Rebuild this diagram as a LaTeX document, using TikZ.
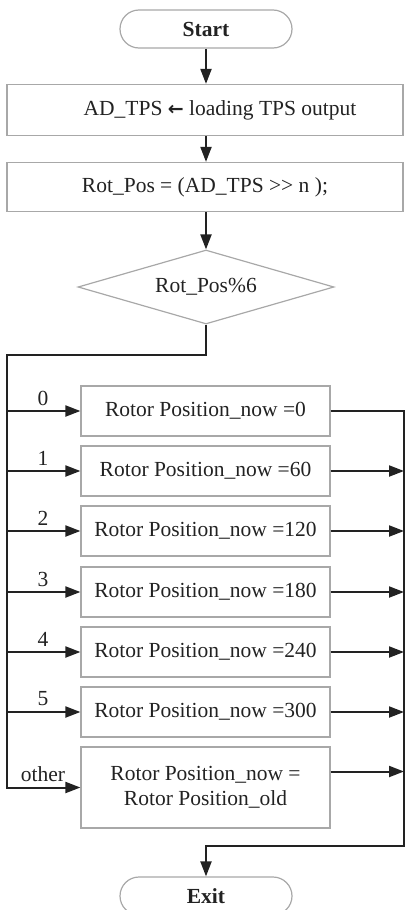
\documentclass[tikz,border=0pt]{standalone}
\usepackage{fontspec}
\setmainfont{Liberation Serif}
\newfontfamily\symf{DejaVu Sans}
\usetikzlibrary{shapes.geometric,arrows.meta}
\definecolor{txt}{HTML}{222222}
\definecolor{boxc}{HTML}{A8A8A8}
\definecolor{linec}{HTML}{222222}
\begin{document}
\begin{tikzpicture}[x=1pt,y=-1pt,
  every node/.style={font=\fontsize{21.5}{25}\selectfont, text=txt},
  box/.style={draw=boxc, line width=1.2pt, rectangle, minimum width=249pt, minimum height=50pt, inner sep=0pt, align=center},
  wide/.style={box, minimum width=396pt},
  term/.style={draw=boxc, line width=1.2pt, rounded corners=19pt, minimum width=172pt, minimum height=38pt, inner sep=0pt, font=\fontsize{21.5}{25}\selectfont\bfseries},
  dec/.style={diamond, draw=boxc, line width=1.2pt, minimum width=256pt, minimum height=74pt, inner sep=0pt, aspect=3.46},
  conn/.style={draw=linec, line width=2pt},
  arr/.style={conn, -{Triangle[length=15pt,width=11pt]}},
  lab/.style={inner sep=0pt}
]
\useasboundingbox (0,0) rectangle (406,910);
\clip (0,0) rectangle (406,910);
% nodes
\node[term] (start) at (206,29) {Start};
\node[wide, minimum height=51pt] (ad) at (205,110) {\hspace{30pt}AD\_TPS {\symf\bfseries\fontsize{19}{25}\selectfont ←} loading TPS output};
\node[wide, minimum height=49pt] (rot) at (205,187) {Rot\_Pos = (AD\_TPS {>}{>} n );};
\node[dec] (dia) at (206,287) {Rot\_Pos\%6};
\node[box] (b0) at (205.5,411) {Rotor Position\_now =0};
\node[box] (b1) at (205.5,471) {Rotor Position\_now =60};
\node[box] (b2) at (205.5,531) {Rotor Position\_now =120};
\node[box] (b3) at (205.5,592) {Rotor Position\_now =180};
\node[box] (b4) at (205.5,652) {Rotor Position\_now =240};
\node[box] (b5) at (205.5,712) {Rotor Position\_now =300};
\node[box, minimum height=81pt] (oth) at (205.5,787.5) {Rotor Position\_now =\\Rotor Position\_old};
\node[term] (exit) at (206,896) {Exit};
% labels
\node[lab] (l0) at (43,398) {0};
\node[lab] (l1) at (43,458) {1};
\node[lab] (l2) at (43,518) {2};
\node[lab] (l3) at (43,579) {3};
\node[lab] (l4) at (43,639) {4};
\node[lab] (l5) at (43,699) {5};
\node[lab] (lo) at (43,774) {other};
% junction points
\coordinate (jm) at (206,355);
\coordinate (jl) at (7,355);
\coordinate (jr) at (404,846);
\coordinate (jx) at (206,846);
% top flow
\draw[arr] (start.south) -- (start.south |- ad.north);
\draw[arr] (start.south |- ad.south) -- (start.south |- rot.north);
\draw[arr] (start.south |- rot.south) -- (dia.north);
% left bus
\draw[arr] (dia.south) -- (jm) -- (jl) -- (jl |- oth.west) -- (oth.west);
\foreach \b in {b0,b1,b2,b3,b4,b5}{
  \draw[arr] (jl |- \b.west) -- (\b.west);
}
% right bus
\draw[arr] (b0.east) -- (b0.east -| jr) -- (jr) -- (jx) -- (exit.north);
\foreach \b in {b1,b2,b3,b4,b5}{
  \draw[arr] (\b.east) -- (\b.east -| jr);
}
\draw[arr] ([yshift=16pt]oth.east) -- ([yshift=16pt]oth.east -| jr);
\end{tikzpicture}
\end{document}
